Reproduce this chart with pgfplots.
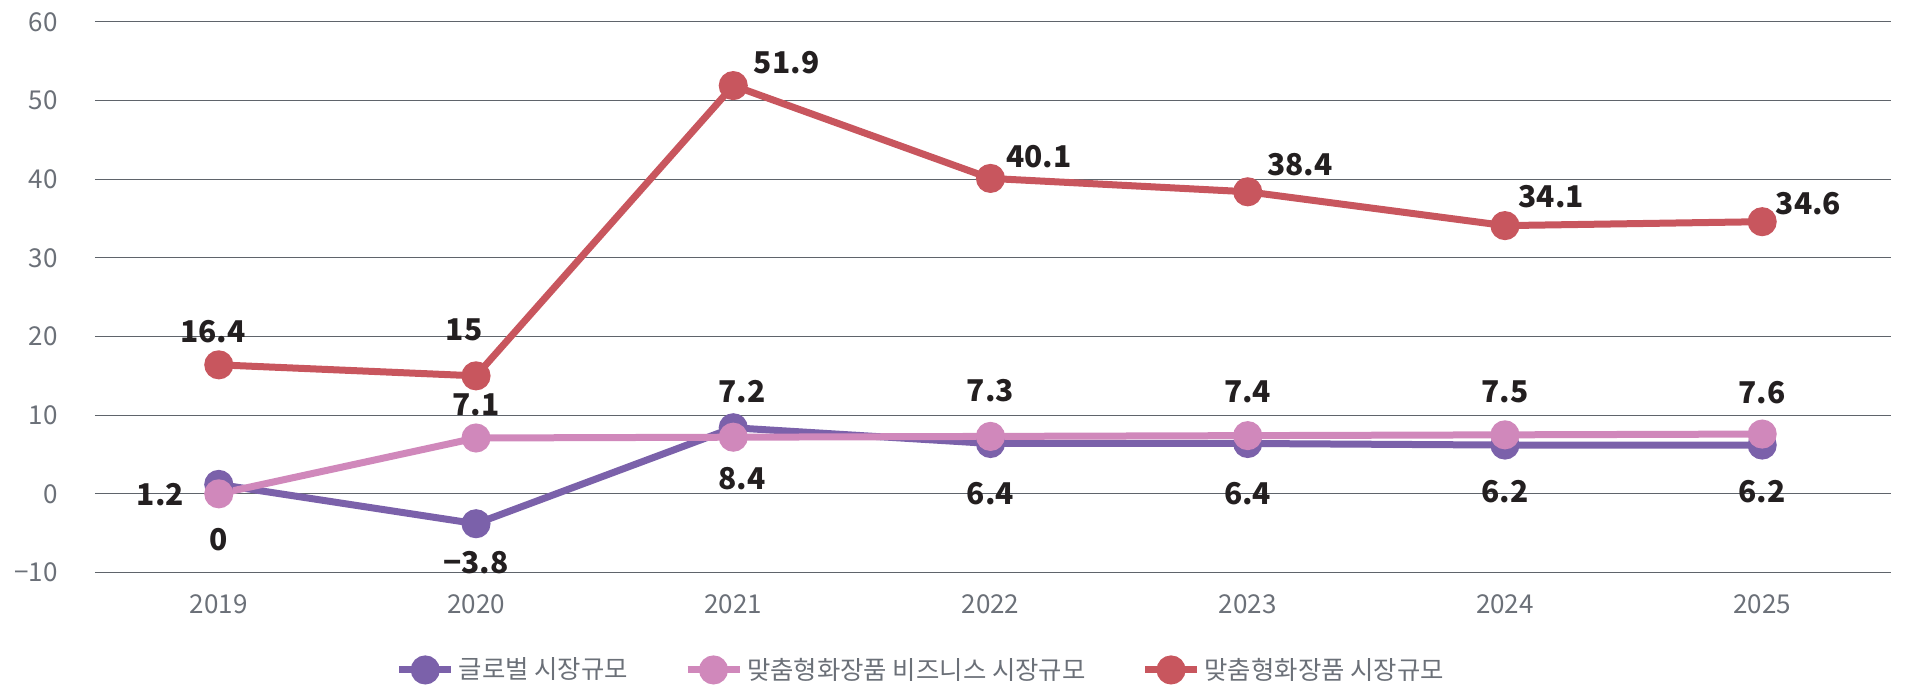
\documentclass[border=0pt]{standalone}
\usepackage{fontspec}
\setmainfont{Noto Sans CJK KR}
\usepackage{pgfplots}
\pgfplotsset{compat=1.18}
\definecolor{cpurple}{HTML}{7B61AA}
\definecolor{cpink}{HTML}{D088BB}
\definecolor{cred}{HTML}{C8565E}
\definecolor{gridgray}{HTML}{5F646B}
\definecolor{tickgray}{HTML}{6B7078}
\definecolor{labelblack}{HTML}{231F20}
\tikzset{datalbl/.style={font=\bfseries\fontsize{15}{15}\selectfont, text=labelblack}}
\begin{document}
\begin{tikzpicture}
\useasboundingbox (-47.4pt,-57.75pt) rectangle (905.1pt,286.25pt);
\begin{axis}[
  at={(0,0)}, anchor=south west,
  scale only axis, width=898pt, height=275.3pt,
  xmin=-0.482, xmax=6.5, ymin=-10, ymax=60,
  ytick={-10,0,10,20,30,40,50,60},
  yticklabels={−10,0,10,20,30,40,50,60},
  xtick={0,1,2,3,4,5,6},
  xticklabels={2019,2020,2021,2022,2023,2024,2025},
  ymajorgrids, grid style={color=gridgray, line width=0.6pt},
  axis line style={draw=none}, major tick length=0pt,
  ticklabel style={font=\fontsize{13}{13}\selectfont, text=tickgray},
  yticklabel style={anchor=east, xshift=-15pt},
  xticklabel style={anchor=center, yshift=-15.75pt},
  clip=false,
  legend columns=3,
  legend style={at={(0.4605,-0.177)}, anchor=center, draw=none, fill=none,
    font=\fontsize{12.7}{12.7}\selectfont, text=tickgray,
    /tikz/every even column/.append style={column sep=26pt}},
  legend image code/.code={\draw[mark repeat=2,mark phase=2,#1] plot coordinates {(0pt,0pt) (13pt,0pt) (26pt,0pt)};},
  every axis plot/.append style={line width=3.5pt, mark=*, mark size=5.5pt, mark options={solid}},
]
\addplot[color=cpurple, mark options={fill=cpurple, draw=cpurple}] coordinates {(0,1.2) (1,-3.8) (2,8.4) (3,6.4) (4,6.4) (5,6.2) (6,6.2)};
\addlegendentry{글로벌 시장규모}
\addplot[color=cpink, mark options={fill=cpink, draw=cpink}] coordinates {(0,0) (1,7.1) (2,7.2) (3,7.3) (4,7.4) (5,7.5) (6,7.6)};
\addlegendentry{맞춤형화장품 비즈니스 시장규모}
\addplot[color=cred, mark options={fill=cred, draw=cred}] coordinates {(0,16.4) (1,15) (2,51.9) (3,40.1) (4,38.4) (5,34.1) (6,34.6)};
\addlegendentry{맞춤형화장품 시장규모}
% red labels
\node[datalbl, xshift=-3pt, yshift=16.4pt] at (axis cs:0,16.4) {16.4};
\node[datalbl, xshift=-6pt, yshift=23pt] at (axis cs:1,15) {15};
\node[datalbl, xshift=26.7pt, yshift=11.5pt] at (axis cs:2,51.9) {51.9};
\node[datalbl, xshift=24.3pt, yshift=10.9pt] at (axis cs:3,40.1) {40.1};
\node[datalbl, xshift=26.1pt, yshift=13.4pt] at (axis cs:4,38.4) {38.4};
\node[datalbl, xshift=23.1pt, yshift=14.6pt] at (axis cs:5,34.1) {34.1};
\node[datalbl, xshift=23.1pt, yshift=9.1pt] at (axis cs:6,34.6) {34.6};
% purple labels
\node[datalbl, xshift=-29.2pt, yshift=-4.9pt] at (axis cs:0,1.2) {1.2};
\node[datalbl, yshift=-19.4pt] at (axis cs:1,-3.8) {−3.8};
\node[datalbl, xshift=4.3pt, yshift=-25.5pt] at (axis cs:2,8.4) {8.4};
\node[datalbl, yshift=-25pt] at (axis cs:3,6.4) {6.4};
\node[datalbl, yshift=-25pt] at (axis cs:4,6.4) {6.4};
\node[datalbl, yshift=-23.5pt] at (axis cs:5,6.2) {6.2};
\node[datalbl, yshift=-23.5pt] at (axis cs:6,6.2) {6.2};
% pink labels
\node[datalbl, yshift=-23pt] at (axis cs:0,0) {0};
\node[datalbl, yshift=16.4pt] at (axis cs:1,7.1) {7.1};
\node[datalbl, xshift=4.3pt, yshift=23pt] at (axis cs:2,7.2) {7.2};
\node[datalbl, yshift=23pt] at (axis cs:3,7.3) {7.3};
\node[datalbl, yshift=22pt] at (axis cs:4,7.4) {7.4};
\node[datalbl, yshift=21.5pt] at (axis cs:5,7.5) {7.5};
\node[datalbl, yshift=20.7pt] at (axis cs:6,7.6) {7.6};
\end{axis}
\end{tikzpicture}
\end{document}
